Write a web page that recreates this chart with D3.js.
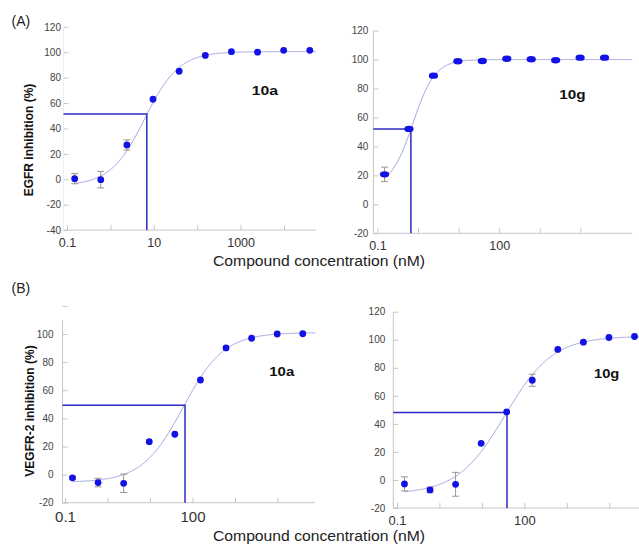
<!DOCTYPE html>
<html><head><meta charset="utf-8">
<script src="https://cdn.jsdelivr.net/npm/d3@7"></script>
<style>body{margin:0;background:#fff}svg{display:block}</style>
</head><body><svg id="c" width="639" height="547"></svg>
<script>
// ---------- data ----------
const conc = [0.15, 0.6, 2.4, 9.6, 38.4, 153.6, 614.4, 2457.6, 9830.4, 39321.6];

const egfr10a     = [0.5, -0.3, 27, 63, 85, 97.5, 100.4, 100, 101.5, 101.5];
const egfr10aErr  = [4, 6.5, 4, 0, 0, 0, 0, 0, 0, 0];
const egfr10g     = [20.7, 52.1, 88.9, 98.8, 99, 100.6, 100.2, 99.5, 101.3, 101.3];
const egfr10gErr  = [5, 0, 0, 0, 0, 0, 0, 0, 0, 0];
const vegfr10a    = [-2.3, -5.7, -6.2, 23.4, 28.7, 67.3, 90.1, 97, 100, 100.2];
const vegfr10aErr = [1, 3, 6.5, 0, 0, 0, 0, 0, 0, 0];
const vegfr10g    = [-2.8, -7.1, -3.1, 26.1, 48.5, 71.1, 93.1, 98.3, 101.6, 102.3];
const vegfr10gErr = [5, 2, 8.5, 0, 0, 4.3, 0, 0, 0, 0];

// four-parameter logistic fit: [bottom, top, IC50 (nM), Hill slope]
const fitEgfr10a  = [-5, 100.5, 6.2, 1.1];
const fitEgfr10g  = [12, 100, 0.75, 1.6];
const fitVegfr10a = [-5.5, 101, 60, 0.9];
const fitVegfr10g = [-10, 102.5, 35.3, 0.77];

// IC50 guide lines: [concentration, inhibition]
const icEgfr10a  = [6.9, 51.3];
const icEgfr10g  = [0.668, 52.1];
const icVegfr10a = [66.7, 49.3];
const icVegfr10g = [39, 48.1];

const xTicks = [0.1, 1, 10, 100, 1000, 10000];
const xLabelsA1 = [0.1, 10, 1000];
const xLabelsOther = [0.1, 100];
const yTicksA1 = [-40, -20, 0, 20, 40, 60, 80, 100, 120];
const yTicksA2 = [-20, 0, 20, 40, 60, 80, 100, 120];
const yTicksB1 = [-20, 0, 20, 40, 60, 80, 100, 120];
const yLabelsB1 = [-20, 0, 20, 40, 60, 80, 100];
const yTicksB2 = [-20, 0, 20, 40, 60, 80, 100, 120];

const compoundNames = ["10a", "10g", "10a", "10g"];
const yTitles = ["EGFR inhibition (%)", "VEGFR-2 inhibition (%)"];
const xTitle = "Compound concentration (nM)";
const partLabels = ["(A)", "(B)"];

// ---------- layout ----------
const svg = d3.select("#c");
const FONT = "'Liberation Sans', Arial, Helvetica, sans-serif";
const AXIS = "#c6c6c6", DOT = "#1212e6", CURVE = "#a4a4e2", GUIDE = "#2b2bc4", ERR = "#9c9488";

const panels = [
  {vals: egfr10a, err: egfr10aErr, fit: fitEgfr10a, ic: icEgfr10a, name: compoundNames[0],
   x01: 67, dec: 43.4, axX: 63.5, xEnd: 5.5e4, yMin: -40, yMax: 120, yBot: 230.1, yTop: 26.8,
   yAxisTop: null, yAxisColor: "#eeeeee",
   yTicks: yTicksA1, yLabels: yTicksA1, xLabels: xLabelsA1, xLabSize: 12.5, xLabBase: 17,
   yLabSize: 10, yLabPad: 2.5, dotRx: 3.4, dotRy: 3.4,
   nameX: 251.7, nameY: 95, nameW: 26.3},
  {vals: egfr10g, err: egfr10gErr, fit: fitEgfr10g, ic: icEgfr10g, name: compoundNames[1],
   x01: 377.4, dec: 40.6, axX: 373.4, xEnd: 1.9e5, yMin: -20, yMax: 120, yBot: 233.3, yTop: 30.6,
   yAxisTop: null, yAxisColor: AXIS,
   yTicks: yTicksA2, yLabels: yTicksA2, xLabels: xLabelsOther, xLabSize: 12.5, xLabBase: 17,
   yLabSize: 10, yLabPad: 5, dotRx: 4.6, dotRy: 3.2,
   nameX: 559.3, nameY: 99.3, nameW: 26.3},
  {vals: vegfr10a, err: vegfr10aErr, fit: fitVegfr10a, ic: icVegfr10a, name: compoundNames[2],
   x01: 65, dec: 42.5, axX: 62.5, xEnd: 7.8e4, yMin: -20, yMax: 120, yBot: 502.7, yTop: 305.9,
   yAxisTop: 320, yAxisColor: AXIS,
   yTicks: yTicksB1, yLabels: yLabelsB1, xLabels: xLabelsOther, xLabSize: 15, xLabBase: 19.5,
   yLabSize: 10, yLabPad: 9, dotRx: 3.4, dotRy: 3.4,
   nameX: 269.3, nameY: 376, nameW: 25},
  {vals: vegfr10g, err: vegfr10gErr, fit: fitVegfr10g, ic: icVegfr10g, name: compoundNames[3],
   x01: 397, dec: 42.45, axX: 393.3, xEnd: 6e4, yMin: -20, yMax: 120, yBot: 508, yTop: 311.7,
   yAxisTop: null, yAxisColor: AXIS,
   yTicks: yTicksB2, yLabels: yTicksB2, xLabels: xLabelsOther, xLabSize: 13, xLabBase: 16.5,
   yLabSize: 10, yLabPad: 8, dotRx: 3.4, dotRy: 3.4,
   nameX: 594, nameY: 377.5, nameW: 25.3}
];

function logistic(p, c) {
  return p[0] + (p[1] - p[0]) / (1 + Math.pow(p[2] / c, p[3]));
}

panels.forEach(cfg => {
  const x = d3.scaleLog().domain([0.1, 1e6]).range([cfg.x01, cfg.x01 + 7 * cfg.dec]);
  const y = d3.scaleLinear().domain([cfg.yMin, cfg.yMax]).range([cfg.yBot, cfg.yTop]);
  const g = svg.append("g");
  const yb = y(cfg.yMin);

  // x axis
  const xa = g.append("g").attr("transform", `translate(0,${yb})`)
    .call(d3.axisBottom(x).tickValues(xTicks).tickSizeInner(-5).tickSizeOuter(0)
      .tickFormat(d => cfg.xLabels.includes(d) ? String(d) : ""));
  xa.select(".domain").remove();
  xa.selectAll(".tick line").attr("stroke", AXIS);
  xa.selectAll(".tick text").attr("y", cfg.xLabBase).attr("dy", null)
    .attr("fill", "#333").style("font-family", FONT).style("font-size", cfg.xLabSize + "px");
  g.append("line").attr("x1", cfg.axX).attr("x2", x(cfg.xEnd)).attr("y1", yb).attr("y2", yb)
    .attr("stroke", AXIS).attr("stroke-width", 1);

  // y axis
  const ya = g.append("g").attr("transform", `translate(${cfg.axX},0)`)
    .call(d3.axisLeft(y).tickValues(cfg.yTicks).tickSizeInner(-5).tickSizeOuter(0).tickPadding(cfg.yLabPad)
      .tickFormat(d => cfg.yLabels.includes(d) ? String(d) : ""));
  ya.select(".domain").remove();
  ya.selectAll(".tick line").attr("stroke", AXIS);
  ya.selectAll(".tick text").attr("fill", "#444").style("font-family", FONT).style("font-size", cfg.yLabSize + "px");
  g.append("line").attr("x1", cfg.axX).attr("x2", cfg.axX)
    .attr("y1", cfg.yAxisTop != null ? cfg.yAxisTop : y(cfg.yMax)).attr("y2", yb)
    .attr("stroke", cfg.yAxisColor).attr("stroke-width", 1);

  // fitted curve
  const xs = d3.range(0, 301).map(i => Math.exp(Math.log(conc[0]) + (Math.log(cfg.xEnd) - Math.log(conc[0])) * i / 300));
  g.append("path").datum(xs)
    .attr("d", d3.line().x(c => x(c)).y(c => y(logistic(cfg.fit, c))))
    .attr("fill", "none").attr("stroke", CURVE).attr("stroke-width", 1);

  // IC50 guide lines
  g.append("path")
    .attr("d", `M${cfg.axX},${y(cfg.ic[1])}H${x(cfg.ic[0])}V${yb}`)
    .attr("fill", "none").attr("stroke", GUIDE).attr("stroke-width", 1.5);

  // error bars
  const pts = conc.map((c, i) => ({c, v: cfg.vals[i], e: cfg.err[i]}));
  const eb = g.append("g").attr("stroke", ERR).attr("stroke-width", 1).attr("fill", "none");
  pts.filter(d => d.e > 0).forEach(d => {
    const cx = x(d.c), y1 = y(d.v - d.e), y2 = y(d.v + d.e);
    eb.append("path").attr("d", `M${cx},${y1}V${y2}M${cx - 3.5},${y1}H${cx + 3.5}M${cx - 3.5},${y2}H${cx + 3.5}`);
  });

  // points
  g.selectAll("ellipse.pt").data(pts).join("ellipse").attr("class", "pt")
    .attr("cx", d => x(d.c)).attr("cy", d => y(d.v))
    .attr("rx", cfg.dotRx).attr("ry", cfg.dotRy).attr("fill", DOT);

  // compound name
  g.append("text").attr("x", cfg.nameX).attr("y", cfg.nameY).text(cfg.name)
    .attr("textLength", cfg.nameW).attr("lengthAdjust", "spacingAndGlyphs")
    .style("font-family", FONT).style("font-weight", "bold").style("font-size", "13px").attr("fill", "#111");
});

// y axis titles
[[33, 140, yTitles[0]], [34, 411, yTitles[1]]].forEach(([tx, ty, s]) => {
  svg.append("text").attr("transform", `translate(${tx},${ty}) rotate(-90)`)
    .attr("text-anchor", "middle").text(s)
    .style("font-family", FONT).style("font-weight", "bold").style("font-size", "12px").attr("fill", "#111");
});

// x axis titles
[266, 541].forEach(ty => {
  svg.append("text").attr("x", 213).attr("y", ty).text(xTitle)
    .attr("textLength", 212).attr("lengthAdjust", "spacingAndGlyphs")
    .style("font-family", FONT).style("font-size", "14px").attr("fill", "#222");
});

// part labels
[[11.5, 26, partLabels[0]], [11.5, 293, partLabels[1]]].forEach(([tx, ty, s]) => {
  svg.append("text").attr("x", tx).attr("y", ty).text(s)
    .style("font-family", FONT).style("font-size", "14px").attr("fill", "#222");
});
</script></body></html>
